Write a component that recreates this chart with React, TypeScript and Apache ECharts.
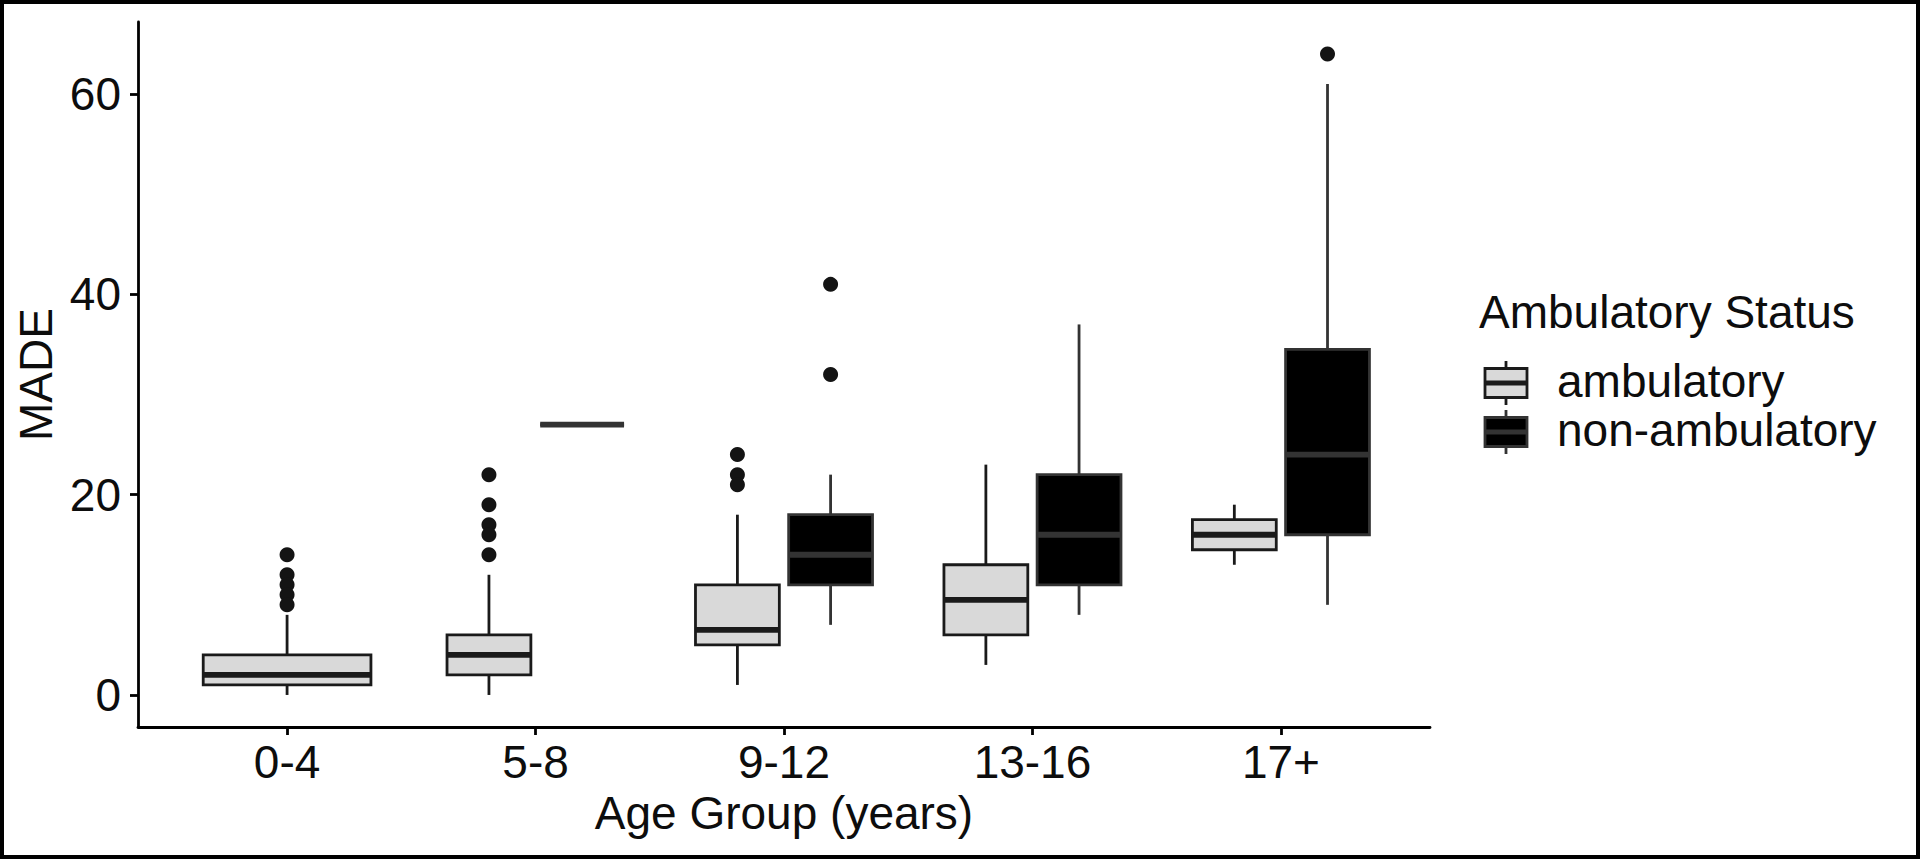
import React, { useEffect, useRef } from "react";
import * as echarts from "echarts";

// ---------- data ----------
const categories = ["0-4", "5-8", "9-12", "13-16", "17+"];
const groupNames = ["ambulatory", "non-ambulatory"];
// [min, q1, median, q3, max]  (null = group absent)
const ambulatoryStats: (number[] | null)[] = [
  [0, 1, 2, 4, 8],
  [0, 2, 4, 6, 12],
  [1, 5, 6.5, 11, 18],
  [3, 6, 9.5, 13, 23],
  [13, 14.5, 16, 17.5, 19],
];
const nonAmbulatoryStats: (number[] | null)[] = [
  null,
  [27, 27, 27, 27, 27],
  [7, 11, 14, 18, 22],
  [8, 11, 16, 22, 37],
  [9, 16, 24, 34.5, 61],
];
const ambulatoryOutliers: number[][] = [
  [14, 12, 11, 10, 9],
  [22, 19, 17, 16, 14],
  [24, 22, 21],
  [],
  [],
];
const nonAmbulatoryOutliers: number[][] = [[], [], [41, 32], [], [64]];
const yTicks = [0, 20, 40, 60];
const xTicks = [1, 2, 3, 4, 5];
const legendTitle = "Ambulatory Status";
const xTitle = "Age Group (years)";
const yTitle = "MADE";

// ---------- styles ----------
const FONT = "'Liberation Sans', Arial, sans-serif";
const FILLS = ["#d9d9d9", "#000000"];
const STROKES = ["#1a1a1a", "#333333"];
const TEXT = "#0d0d0d";
const LW = 2.8;

const allStats = [ambulatoryStats, nonAmbulatoryStats];
const allOutliers = [ambulatoryOutliers, nonAmbulatoryOutliers];

// ggplot-like dodge2: total width 0.75, padding 0.1
function layoutGroups() {
  const boxes: any[][] = [[], []];
  const pts: number[][][] = [[], []];
  categories.forEach((_, ci) => {
    const present = [0, 1].filter((g) => allStats[g][ci] != null);
    const n = present.length;
    const slot = 0.75 / n;
    present.forEach((g, k) => {
      const cx = ci + 1 - 0.375 + (k + 0.5) * slot;
      const s = allStats[g][ci] as number[];
      boxes[g].push([cx, s[0], s[1], s[2], s[3], s[4], slot * 0.9]);
      allOutliers[g][ci].forEach((v) => pts[g].push([cx, v]));
    });
  });
  return { boxes, pts };
}

export default function App() {
  const ref = useRef<HTMLDivElement>(null);
  useEffect(() => {
    if (!ref.current) return;
    const chart = echarts.init(ref.current, undefined, { renderer: "svg" });
    const { boxes, pts } = layoutGroups();

    const makeRender = (g: number) => (params: any, api: any) => {
      const x = api.value(0);
      const lo = api.value(1), q1 = api.value(2), med = api.value(3), q3 = api.value(4), hi = api.value(5);
      const hw = api.value(6) / 2;
      const tl = api.coord([x - hw, q3]);
      const br = api.coord([x + hw, q1]);
      const cx = api.coord([x, med])[0];
      const y = (v: number) => api.coord([x, v])[1];
      const stroke = STROKES[g];
      return {
        type: "group",
        children: [
          { type: "line", shape: { x1: cx, y1: y(hi), x2: cx, y2: y(q3) }, style: { stroke, lineWidth: LW } },
          { type: "line", shape: { x1: cx, y1: y(q1), x2: cx, y2: y(lo) }, style: { stroke, lineWidth: LW } },
          {
            type: "rect",
            shape: { x: tl[0], y: tl[1], width: br[0] - tl[0], height: br[1] - tl[1] },
            style: { fill: FILLS[g], stroke, lineWidth: LW },
          },
          { type: "line", shape: { x1: tl[0], y1: y(med), x2: br[0], y2: y(med) }, style: { stroke, lineWidth: 5.8 } },
        ],
      };
    };

    // legend built from group names/colours
    const legendX = 1485;
    const keyW = 42;
    const keyRows = [383, 432];
    const legendEls: any[] = [
      {
        type: "text",
        x: 1479,
        y: 312,
        style: { text: legendTitle, font: `46px ${FONT}`, fill: TEXT, textVerticalAlign: "middle" },
      },
    ];
    groupNames.forEach((name, g) => {
      const cy = keyRows[g];
      legendEls.push(
        { type: "line", shape: { x1: legendX + keyW / 2, y1: cy - 22, x2: legendX + keyW / 2, y2: cy + 22 }, style: { stroke: STROKES[g], lineWidth: LW } },
        { type: "rect", shape: { x: legendX, y: cy - 14.5, width: keyW, height: 29 }, style: { fill: FILLS[g], stroke: STROKES[g], lineWidth: LW } },
        { type: "line", shape: { x1: legendX, y1: cy, x2: legendX + keyW, y2: cy }, style: { stroke: STROKES[g], lineWidth: 5 } },
        {
          type: "text",
          x: 1557,
          y: cy - 2,
          style: { text: name, font: `46px ${FONT}`, fill: TEXT, textVerticalAlign: "middle" },
        }
      );
    });

    chart.setOption({
      animation: false,
      backgroundColor: "#ffffff",
      grid: { left: 138, right: 490, top: 22, bottom: 132, containLabel: false },
      xAxis: {
        type: "value",
        min: 0.4,
        max: 5.6,
        name: xTitle,
        nameLocation: "middle",
        nameGap: 60,
        nameTextStyle: { fontSize: 46, fontFamily: FONT, color: TEXT },
        splitLine: { show: false },
        axisLine: { show: true, onZero: false, lineStyle: { color: "#000", width: LW } },
        axisTick: { show: true, length: 8, customValues: xTicks, lineStyle: { color: "#000", width: LW } },
        axisLabel: {
          customValues: xTicks,
          formatter: (v: number) => categories[Math.round(v) - 1] ?? "",
          fontSize: 46,
          fontFamily: FONT,
          color: TEXT,
          margin: 12,
        },
      },
      yAxis: {
        type: "value",
        min: -3.2,
        max: 67.2,
        name: yTitle,
        nameLocation: "middle",
        nameGap: 70,
        nameRotate: 90,
        nameTextStyle: { fontSize: 46, fontFamily: FONT, color: TEXT },
        splitLine: { show: false },
        axisLine: { show: true, onZero: false, lineStyle: { color: "#000", width: LW } },
        axisTick: { show: true, length: 8, customValues: yTicks, lineStyle: { color: "#000", width: LW } },
        axisLabel: {
          customValues: yTicks,
          fontSize: 46,
          fontFamily: FONT,
          color: TEXT,
          margin: 17,
        },
      },
      series: [0, 1].flatMap((g) => [
        {
          type: "custom",
          name: groupNames[g],
          data: boxes[g],
          encode: { x: 0, y: [1, 2, 3, 4, 5] },
          renderItem: makeRender(g),
          z: 2,
        },
        {
          type: "scatter",
          name: groupNames[g] + " outliers",
          data: pts[g],
          symbol: "circle",
          symbolSize: 15,
          itemStyle: { color: "#141414", opacity: 1 },
          z: 3,
        },
      ]),
      graphic: [
        {
          type: "rect",
          shape: { x: 2, y: 2, width: 1916, height: 855 },
          style: { fill: "none", stroke: "#000", lineWidth: 4 },
          silent: true,
        },
        ...legendEls,
      ],
    });
    return () => chart.dispose();
  }, []);
  return (
    <div
      ref={ref}
      style={{ position: "fixed", left: 0, top: 0, width: 1920, height: 859, background: "#fff" }}
    />
  );
}
